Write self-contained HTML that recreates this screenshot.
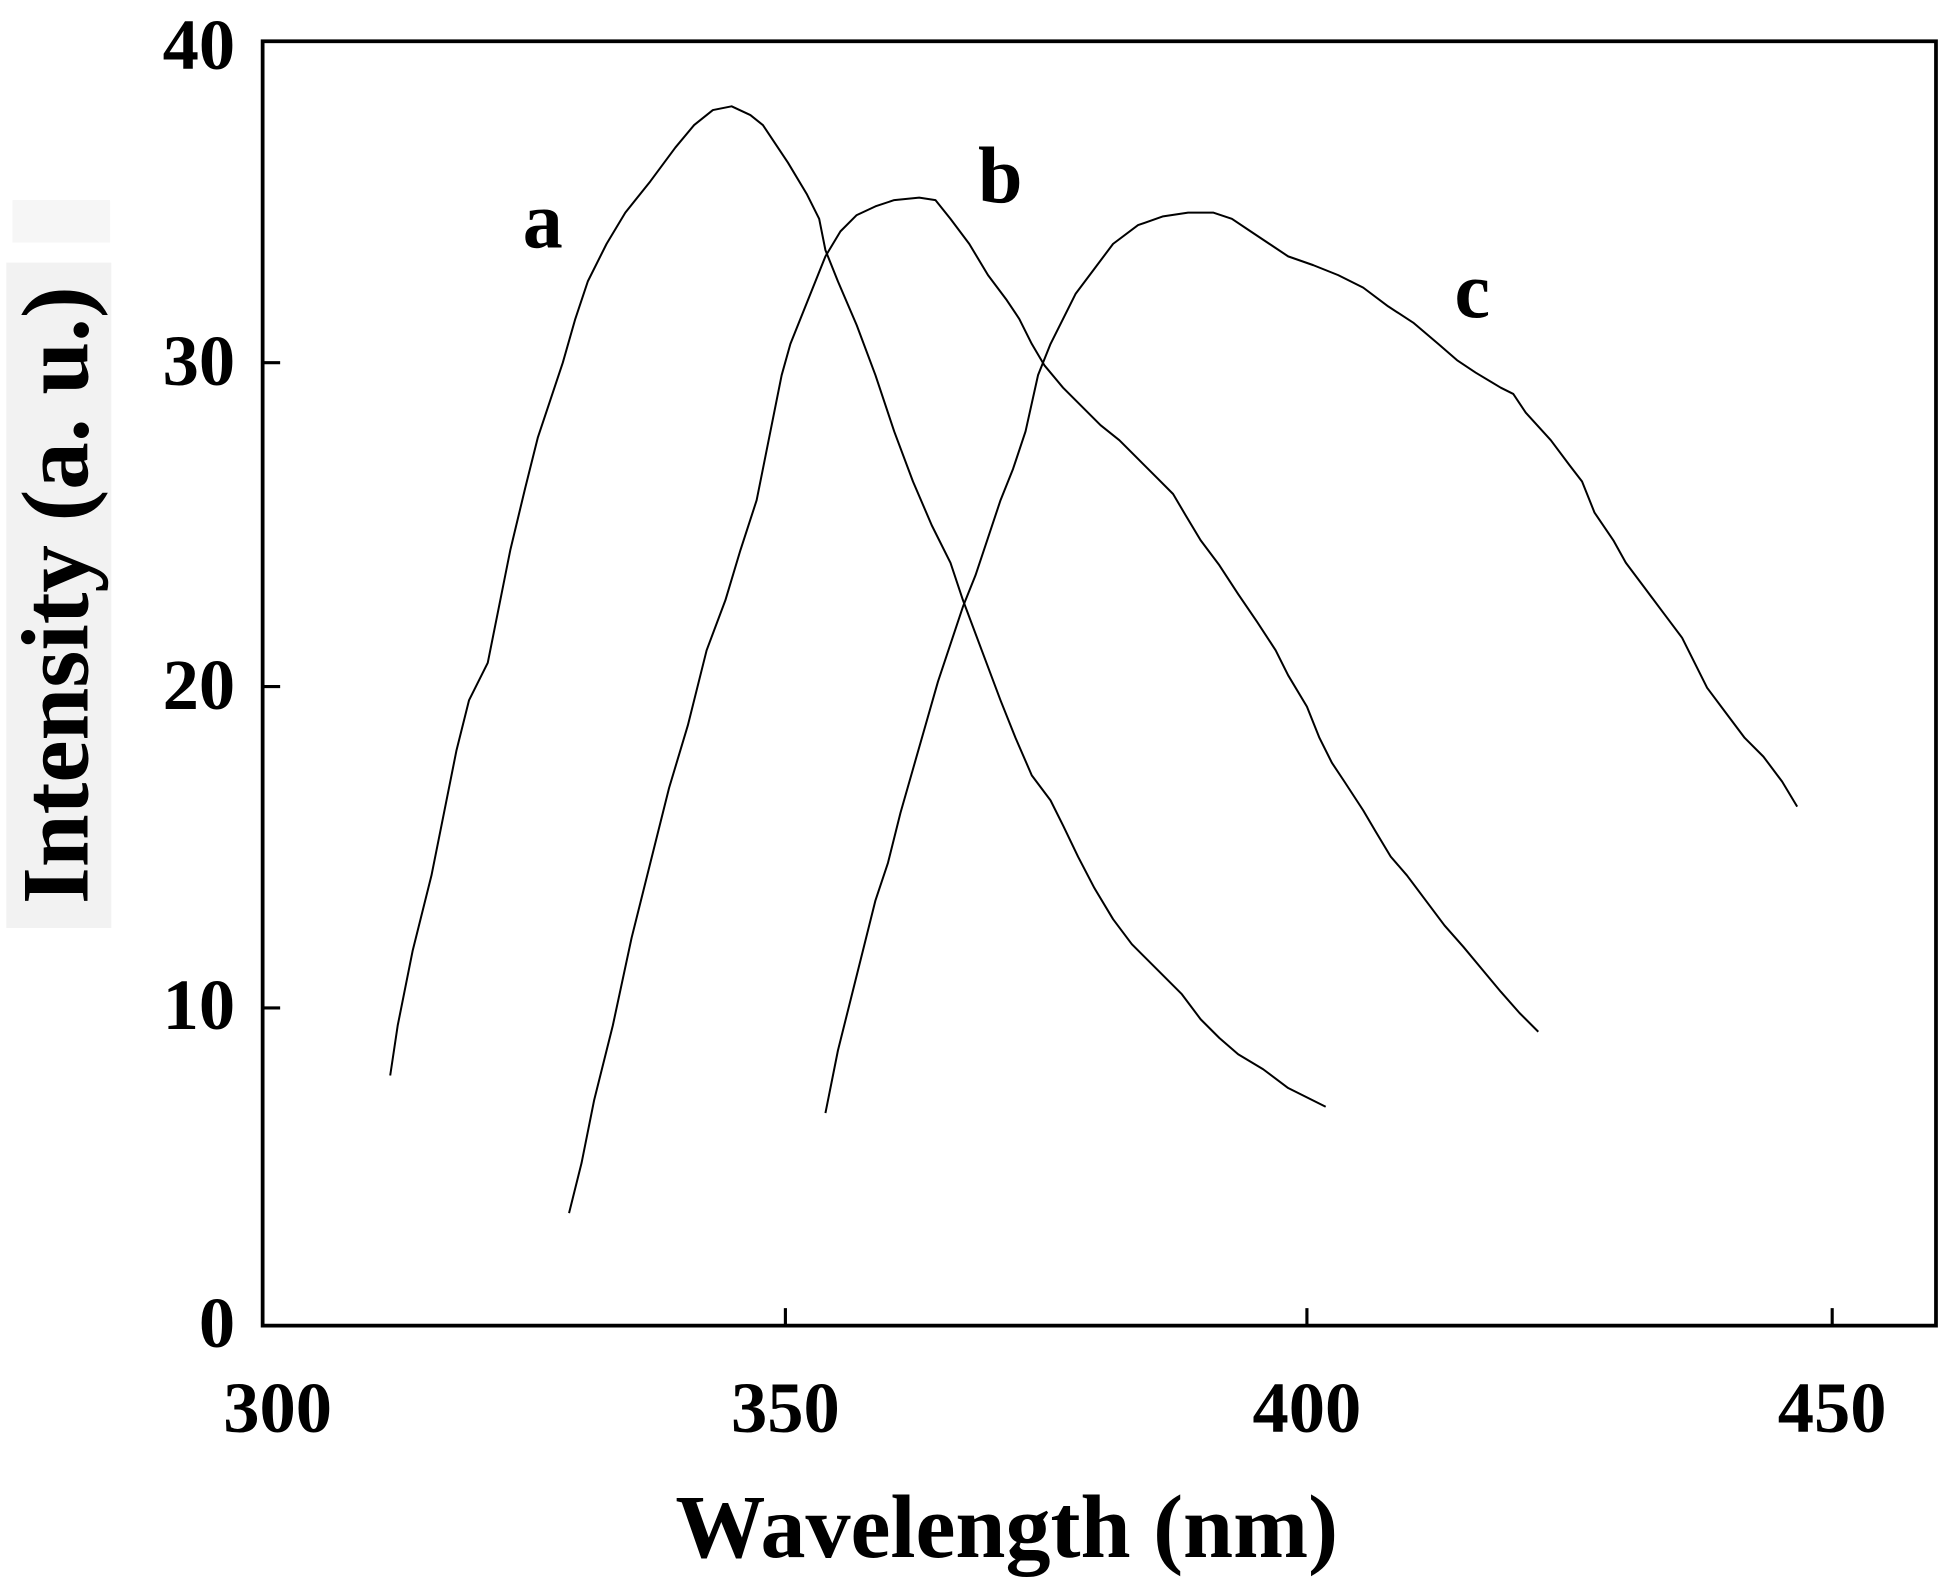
<!DOCTYPE html>
<html><head><meta charset="utf-8"><style>
html,body{margin:0;padding:0;background:#fff;}
svg{display:block;}
text{font-family:"Liberation Serif",serif;font-weight:bold;fill:#000;}
</style></head><body>
<svg width="1946" height="1582" viewBox="0 0 1556 1265" preserveAspectRatio="none" xmlns="http://www.w3.org/2000/svg">
<rect x="5" y="210" width="84" height="532" fill="#f2f2f2"/>
<rect x="10" y="160" width="78" height="34" fill="#f6f6f6"/>
<rect x="210" y="33" width="1338" height="1027" fill="none" stroke="#000" stroke-width="3"/>
<g stroke="#000" stroke-width="2.5">
<line x1="628" y1="1060" x2="628" y2="1046"/><line x1="1045" y1="1060" x2="1045" y2="1046"/><line x1="1465" y1="1060" x2="1465" y2="1046"/>
<line x1="210" y1="806" x2="224" y2="806"/><line x1="210" y1="549" x2="224" y2="549"/><line x1="210" y1="290" x2="224" y2="290"/>
</g>
<g font-size="58" text-anchor="end">
<text x="188" y="1077">0</text><text x="188" y="823">10</text><text x="188" y="567">20</text><text x="188" y="308">30</text><text x="188" y="55">40</text>
</g>
<g font-size="58" text-anchor="middle">
<text x="222" y="1145">300</text><text x="628" y="1145">350</text><text x="1045" y="1145">400</text><text x="1465" y="1145">450</text>
</g>
<text x="805" y="1245" font-size="72" text-anchor="middle">Wavelength (nm)</text>
<text transform="translate(70,476) rotate(-90)" font-size="76" text-anchor="middle">Intensity (a. u.)</text>
<g font-size="64"><text x="418" y="198">a</text><text x="782" y="162">b</text><text x="1163" y="254">c</text></g>
<g fill="none" stroke="#000" stroke-width="1.6" stroke-linejoin="round">
<polyline points="312,860 318,820 330,760 345,700 355,650 365,600 375,560 390,530 398,490 408,440 420,390 430,350 440,320 450,290 460,255 470,225 485,195 500,170 520,145 540,118 555,100 570,88 585,85 600,92 610,100 620,115 630,130 645,155 655,175 660,200 670,225 685,260 700,300 715,345 730,385 745,420 760,450 770,480 785,520 800,560 812,590 825,620 840,640 850,660 862,685 875,710 890,735 905,755 925,775 945,795 960,815 975,830 990,843 1010,855 1030,870 1060,885"/>
<polyline points="455,970 465,930 475,880 490,820 505,750 520,690 535,630 550,580 565,520 580,480 592,440 605,400 615,350 625,300 632,275 640,255 650,230 660,205 672,185 685,172 700,165 715,160 735,158 748,160 760,175 775,195 790,220 805,240 815,255 825,275 835,292 850,310 865,325 880,340 895,352 910,367 925,382 938,395 948,412 960,432 975,452 990,475 1005,497 1020,520 1030,540 1045,565 1055,590 1065,610 1075,625 1090,648 1100,665 1112,685 1125,700 1140,720 1155,740 1170,757 1185,775 1200,793 1215,810 1230,825"/>
<polyline points="660,890 670,840 680,800 690,760 700,720 710,690 720,650 730,615 740,580 750,545 760,515 770,485 780,460 790,430 800,400 810,375 820,345 830,300 840,275 850,255 860,235 875,215 890,195 910,180 930,173 950,170 970,170 985,175 1000,185 1015,195 1030,205 1050,212 1070,220 1090,230 1110,245 1130,258 1150,275 1165,288 1180,298 1200,310 1210,315 1220,330 1240,352 1255,372 1265,385 1275,410 1290,432 1300,450 1315,470 1330,490 1345,510 1355,530 1365,550 1380,570 1395,590 1410,605 1425,625 1437,645"/>
</g>
</svg>
</body></html>
